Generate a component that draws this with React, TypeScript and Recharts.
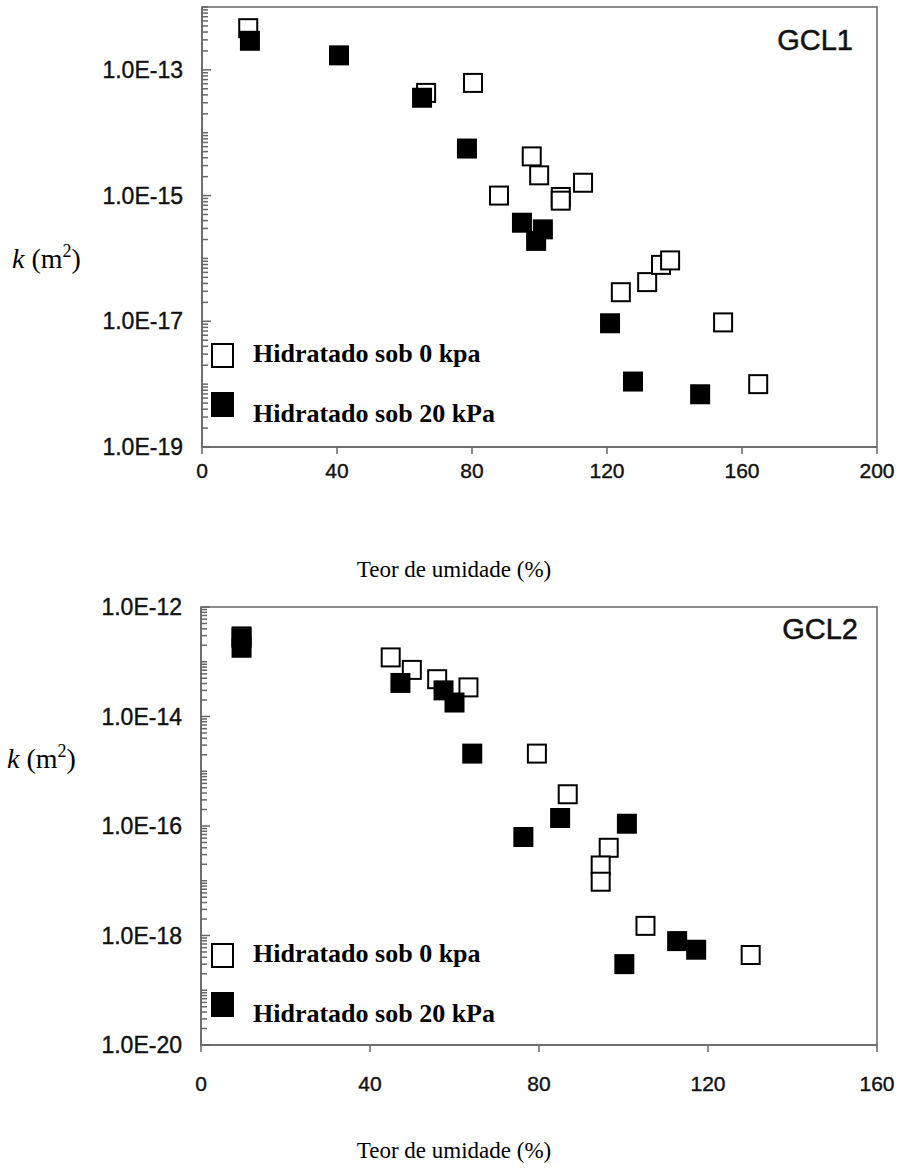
import React from 'react';
import { ScatterChart, Scatter, XAxis, YAxis, Legend, Label, ReferenceArea } from 'recharts';

// GCL1: teor de umidade (%) x permeabilidade k (m²)
const gcl1OpenW = [13.7, 66.4, 80.3, 97.7, 99.9, 88.0, 106.3, 106.3, 112.9, 124.1, 131.9, 136.0, 138.7, 154.4, 164.8];
const gcl1OpenK = [4.6e-13, 4.3e-14, 6.2e-14, 4.2e-15, 2.1e-15, 1.0e-15, 9.5e-16, 8.3e-16, 1.6e-15, 2.9e-17, 4.2e-17, 7.9e-17, 9.3e-17, 9.6e-18, 1.0e-18];
const gcl1FilledW = [14.2, 40.6, 65.2, 78.5, 94.8, 101.0, 99.0, 120.9, 127.7, 147.6];
const gcl1FilledK = [2.9e-13, 1.7e-13, 3.6e-14, 5.6e-15, 3.7e-16, 2.9e-16, 1.9e-16, 9.3e-18, 1.1e-18, 6.9e-19];

// GCL2
const gcl2OpenW = [9.6, 44.9, 49.9, 55.9, 63.3, 79.5, 86.8, 96.5, 94.6, 94.6, 105.2, 130.1];
const gcl2OpenK = [2.9e-13, 1.2e-13, 7.1e-14, 4.8e-14, 3.4e-14, 2.1e-15, 3.8e-16, 4.0e-17, 1.9e-17, 9.6e-18, 1.5e-18, 4.4e-19];
const gcl2FilledW = [9.6, 9.6, 47.2, 57.4, 60.0, 64.2, 76.3, 85.0, 100.8, 112.7, 117.2, 100.2];
const gcl2FilledK = [2.7e-13, 1.8e-13, 4.1e-14, 3.0e-14, 1.8e-14, 2.1e-15, 6.3e-17, 1.4e-16, 1.1e-16, 7.9e-19, 5.5e-19, 3.0e-19];

const gcl1XTicks = [0, 40, 80, 120, 160, 200];
const gcl2XTicks = [0, 40, 80, 120, 160];
const gcl1YMajor = [1e-13, 1e-15, 1e-17, 1e-19];
const gcl1YLabels = ['1.0E-13', '1.0E-15', '1.0E-17', '1.0E-19'];
const gcl2YMajor = [1e-12, 1e-14, 1e-16, 1e-18, 1e-20];
const gcl2YLabels = ['1.0E-12', '1.0E-14', '1.0E-16', '1.0E-18', '1.0E-20'];
const minorSteps = [1, 2, 3, 4, 5, 6, 7, 8, 9];

const seriesNames = ['Hidratado sob 0 kpa', 'Hidratado sob 20 kPa'];

const SANS = "'Liberation Sans', Arial, Helvetica, sans-serif";
const SERIF = "'Liberation Serif', 'Times New Roman', serif";
const AXIS = '#666';

const zip = (w: number[], k: number[]) => w.map((v, i) => ({ w: v, k: k[i] }));

function logTicks(lo: number, hi: number) {
  const out: number[] = [];
  for (let e = lo; e < hi; e++) {
    minorSteps.forEach((m) => out.push(Number((m * Math.pow(10, e)).toPrecision(3))));
  }
  out.push(Math.pow(10, hi));
  return out;
}

const OpenSquare = (p: any) => (
  <rect x={p.cx - 9} y={p.cy - 9} width={18} height={18} fill="#fff" stroke="#000" strokeWidth={2} />
);
const FilledSquare = (p: any) => (
  <rect x={p.cx - 10} y={p.cy - 10} width={20} height={20} fill="#000" />
);

function LegendBox() {
  return (
    <svg width={330} height={100} style={{ display: 'block', overflow: 'visible' }}>
      <rect x={1} y={11} width={21} height={23} fill="#fff" stroke="#000" strokeWidth={2} />
      <text x={42} y={29} fontFamily={SERIF} fontWeight="bold" fontSize={26} fill="#000">{seriesNames[0]}</text>
      <rect x={0} y={59} width={23} height={25} fill="#000" />
      <text x={42} y={89} fontFamily={SERIF} fontWeight="bold" fontSize={26} fill="#000">{seriesNames[1]}</text>
    </svg>
  );
}

interface PanelProps {
  height: number;
  top: number;
  xAxisHeight: number;
  yAxisWidth: number;
  xMax: number;
  xTicks: number[];
  xTickMargin: number;
  yExp: [number, number];
  yMajor: number[];
  yLabels: string[];
  open: { w: number; k: number }[];
  filled: { w: number; k: number }[];
  tag: string;
  tagX: number;
  tagY: number;
  kLabel: [number, number];
  titleY: number;
  legendTop: number;
}

function Panel(p: PanelProps) {
  const yTicks = logTicks(p.yExp[0], p.yExp[1]);
  const yDomain = [Math.pow(10, p.yExp[0]), Math.pow(10, p.yExp[1])];

  const renderYTick = (t: any) => {
    const v = t.payload.value;
    const idx = p.yMajor.findIndex((m) => Math.abs(m - v) / m < 1e-6);
    const major = idx >= 0;
    return (
      <g>
        <line x1={t.x} x2={t.x + (major ? 9 : 6)} y1={t.y} y2={t.y} stroke={AXIS} strokeWidth={1.5} />
        {major && (
          <text
            x={t.x - 19}
            y={t.y}
            textAnchor="end"
            dominantBaseline="central"
            fontFamily={SANS}
            fontSize={23}
            fill="#111"
            stroke="#111"
            strokeWidth={0.4}
          >
            {p.yLabels[idx]}
          </text>
        )}
      </g>
    );
  };

  return (
    <ScatterChart width={902} height={p.height} margin={{ top: p.top, right: 25, left: 0, bottom: 0 }}>
      <XAxis
        xAxisId="b"
        dataKey="w"
        type="number"
        domain={[0, p.xMax]}
        ticks={p.xTicks}
        interval={0}
        height={p.xAxisHeight}
        tickSize={7}
        tickMargin={p.xTickMargin}
        axisLine={{ stroke: AXIS, strokeWidth: 1.5 }}
        tickLine={{ stroke: AXIS, strokeWidth: 1.5 }}
        tick={{ fill: '#111', fontSize: 21, fontFamily: SANS, stroke: '#111', strokeWidth: 0.4 }}
      >
        <Label
          content={() => (
            <text x={454} y={p.titleY} textAnchor="middle" fontFamily={SERIF} fontSize={23} fill="#000">
              Teor de umidade (%)
            </text>
          )}
        />
      </XAxis>
      <YAxis
        yAxisId="l"
        dataKey="k"
        type="number"
        scale="log"
        domain={yDomain}
        allowDataOverflow
        ticks={yTicks}
        interval={0}
        width={p.yAxisWidth}
        tickSize={0}
        tickMargin={0}
        tickLine={false}
        tick={renderYTick}
        axisLine={{ stroke: AXIS, strokeWidth: 1.5 }}
      >
        <Label
          content={() => (
            <text x={p.kLabel[0]} y={p.kLabel[1]} fontFamily={SERIF} fontSize={28} fill="#000">
              <tspan fontStyle="italic">k</tspan>
              <tspan> (m</tspan>
              <tspan dy={-11} fontSize={18}>2</tspan>
              <tspan dy={11}>)</tspan>
            </text>
          )}
        />
      </YAxis>
      <ReferenceArea
        xAxisId="b"
        yAxisId="l"
        x1={0}
        x2={p.xMax}
        y1={yDomain[0]}
        y2={yDomain[1]}
        fill="none"
        fillOpacity={0}
        stroke={AXIS}
        strokeWidth={1.5}
        ifOverflow="visible"
        label={() => (
          <text x={p.tagX} y={p.tagY} textAnchor="end" fontFamily={SANS} fontSize={29} fill="#111" stroke="#111" strokeWidth={0.5}>
            {p.tag}
          </text>
        )}
      />
      <Legend
        layout="vertical"
        align="center"
        verticalAlign="middle"
        content={() => <LegendBox />}
        wrapperStyle={{ left: 211, top: p.legendTop, width: 330 }}
      />
      <Scatter xAxisId="b" yAxisId="l" name={seriesNames[0]} data={p.open} shape={OpenSquare} isAnimationActive={false} />
      <Scatter xAxisId="b" yAxisId="l" name={seriesNames[1]} data={p.filled} shape={FilledSquare} isAnimationActive={false} />
    </ScatterChart>
  );
}

export default function App() {
  return (
    <div style={{ position: 'absolute', left: 0, top: 0, width: 902, height: 1173, background: '#fff' }}>
      <Panel
        height={590}
        top={7}
        xAxisHeight={143}
        yAxisWidth={202}
        xMax={200}
        xTicks={gcl1XTicks}
        xTickMargin={9}
        yExp={[-19, -12]}
        yMajor={gcl1YMajor}
        yLabels={gcl1YLabels}
        open={zip(gcl1OpenW, gcl1OpenK)}
        filled={zip(gcl1FilledW, gcl1FilledK)}
        tag="GCL1"
        tagX={853}
        tagY={50}
        kLabel={[12, 268]}
        titleY={577}
        legendTop={333}
      />
      <Panel
        height={583}
        top={17}
        xAxisHeight={128}
        yAxisWidth={201}
        xMax={160}
        xTicks={gcl2XTicks}
        xTickMargin={24}
        yExp={[-20, -12]}
        yMajor={gcl2YMajor}
        yLabels={gcl2YLabels}
        open={zip(gcl2OpenW, gcl2OpenK)}
        filled={zip(gcl2FilledW, gcl2FilledK)}
        tag="GCL2"
        tagX={858}
        tagY={49}
        kLabel={[7, 178]}
        titleY={568}
        legendTop={343}
      />
    </div>
  );
}
